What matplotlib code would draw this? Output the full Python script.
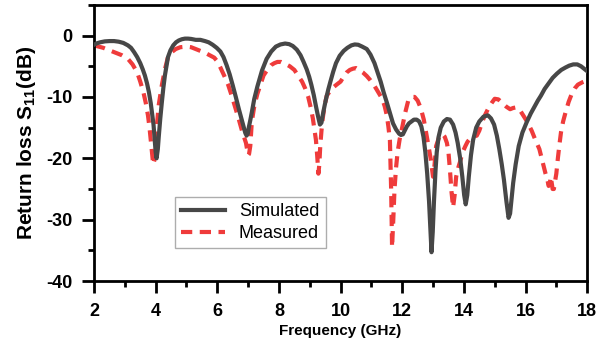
import matplotlib
matplotlib.use("Agg")
import matplotlib.pyplot as plt
from matplotlib.ticker import MultipleLocator

# simulated S11 (GHz, dB)
sim_f = [2.0, 2.1, 2.2, 2.35, 2.5, 2.65, 2.8, 2.95, 3.1, 3.2, 3.3, 3.4, 3.5,
         3.58, 3.65, 3.72, 3.78, 3.84, 3.88, 3.93, 3.96, 4.0, 4.03, 4.07,
         4.1, 4.15, 4.2, 4.25, 4.3, 4.35, 4.4, 4.48, 4.57, 4.66, 4.75, 4.85,
         4.95, 5.05, 5.15, 5.3, 5.45, 5.6, 5.72, 5.85, 5.98, 6.1, 6.2, 6.3,
         6.4, 6.5, 6.6, 6.7, 6.78, 6.85, 6.91, 6.95, 6.99, 7.02, 7.07, 7.12,
         7.2, 7.3, 7.45, 7.6, 7.75, 7.9, 8.05, 8.2, 8.33, 8.45, 8.58, 8.7,
         8.8, 8.9, 8.98, 9.05, 9.13, 9.2, 9.27, 9.33, 9.38, 9.42, 9.47, 9.52,
         9.6, 9.67, 9.76, 9.85, 9.97, 10.1, 10.22, 10.35, 10.46, 10.57, 10.7,
         10.85, 10.97, 11.1, 11.2, 11.3, 11.4, 11.5, 11.6, 11.7, 11.8, 11.9,
         11.96, 12.02, 12.08, 12.15, 12.22, 12.3, 12.38, 12.47, 12.55, 12.62,
         12.69, 12.75, 12.81, 12.87, 12.92, 12.95, 12.99, 13.03, 13.08,
         13.12, 13.18, 13.25, 13.35, 13.45, 13.55, 13.65, 13.73, 13.8, 13.88,
         13.95, 14.01, 14.06, 14.11, 14.16, 14.23, 14.3, 14.4, 14.5, 14.64,
         14.78, 14.88, 14.98, 15.07, 15.15, 15.23, 15.3, 15.38, 15.45, 15.5,
         15.55, 15.6, 15.68, 15.78, 15.9, 16.04, 16.17, 16.3, 16.4, 16.5,
         16.62, 16.75, 16.88, 17.02, 17.16, 17.3, 17.42, 17.55, 17.68, 17.8,
         17.9, 18.0]
sim_db = [-1.5, -1.25, -1.1, -0.95, -0.9, -0.9, -1.0, -1.2, -1.6, -2.0, -2.7,
          -3.5, -4.5, -5.5, -6.5, -7.8, -9.2, -11.0, -12.5, -14.5, -16.5,
          -19.0, -20.0, -18.5, -16.5, -13.5, -10.9, -8.5, -6.5, -5.0, -3.5,
          -2.4, -1.6, -1.1, -0.8, -0.6, -0.5, -0.5, -0.55, -0.7, -0.7, -0.9,
          -1.1, -1.5, -2.0, -2.6, -3.5, -4.8, -6.3, -8.1, -10.0, -12.0, -13.5,
          -14.8, -15.9, -16.3, -16.0, -15.0, -13.8, -12.5, -10.3, -8.3, -5.7,
          -3.8, -2.6, -1.8, -1.45, -1.3, -1.4, -1.7, -2.3, -3.2, -4.3, -5.5,
          -6.7, -8.0, -9.7, -11.5, -13.2, -14.5, -14.2, -13.0, -11.7, -10.5,
          -8.8, -7.5, -5.9, -4.5, -3.3, -2.5, -2.0, -1.6, -1.45, -1.5, -1.8,
          -2.2, -3.1, -4.5, -6.0, -7.5, -9.3, -10.9, -12.6, -14.3, -15.3,
          -16.0, -16.2, -16.1, -15.5, -14.8, -14.3, -14.0, -13.7, -13.7, -14.0,
          -14.8, -16.5, -19.0, -22.5, -27.0, -32.0, -35.3, -32.0, -27.0, -22.0,
          -19.0, -16.5, -15.0, -14.0, -13.6, -13.7, -14.5, -15.8, -17.5, -20.0,
          -23.0, -26.0, -27.5, -26.0, -23.0, -19.5, -17.0, -15.0, -14.0, -13.2,
          -13.0, -13.5, -14.5, -16.3, -18.5, -21.0, -23.5, -27.0, -29.7, -29.0,
          -26.5, -24.0, -21.0, -18.0, -15.8, -14.1, -12.7, -11.5, -10.6, -9.8,
          -8.7, -7.8, -6.9, -6.2, -5.6, -5.2, -4.9, -4.7, -4.7, -5.0, -5.4,
          -5.8]

# measured S11
mea_f = [2.0, 2.3, 2.6, 2.9, 3.1, 3.25, 3.4, 3.5, 3.6, 3.68, 3.75, 3.8,
         3.85, 3.89, 3.92, 3.95, 3.98, 4.03, 4.1, 4.2, 4.3, 4.4, 4.52, 4.65,
         4.8, 5.0, 5.15, 5.3, 5.45, 5.6, 5.75, 5.9, 6.0, 6.1, 6.22, 6.35, 6.48,
         6.6, 6.7, 6.8, 6.87, 6.93, 6.97, 7.0, 7.03, 7.07, 7.12, 7.2, 7.3,
         7.4, 7.5, 7.62, 7.75, 7.85, 7.95, 8.07, 8.2, 8.35, 8.5, 8.62, 8.75,
         8.85, 8.95, 9.03, 9.1, 9.15, 9.2, 9.24, 9.28, 9.31, 9.34, 9.38, 9.42,
         9.48, 9.55, 9.65, 9.75, 9.87, 10.0, 10.1, 10.2, 10.3, 10.4, 10.5,
         10.6, 10.72, 10.85, 10.97, 11.1, 11.22, 11.35, 11.43, 11.5, 11.55,
         11.6, 11.64, 11.67, 11.71, 11.75, 11.8, 11.85, 11.92, 11.99, 12.1,
         12.2, 12.3, 12.4, 12.5, 12.6, 12.7, 12.8, 12.87, 12.92, 12.96, 13.0,
         13.05, 13.1, 13.2, 13.3, 13.38, 13.45, 13.5, 13.55, 13.6, 13.65,
         13.7, 13.75, 13.82, 13.88, 13.96, 14.05, 14.12, 14.2, 14.3, 14.42,
         14.5, 14.6, 14.7, 14.8, 14.9, 15.0, 15.12, 15.25, 15.38, 15.5, 15.6,
         15.7, 15.8, 15.9, 16.05, 16.2, 16.32, 16.45, 16.55, 16.65, 16.71,
         16.75, 16.79, 16.82, 16.85, 16.88, 16.92, 16.95, 17.0, 17.05, 17.1,
         17.15, 17.22, 17.3, 17.4, 17.5, 17.6, 17.7, 17.85, 18.0]
mea_db = [-1.6, -2.0, -2.6, -3.2, -3.8, -4.7, -6.0, -7.5, -9.2, -11.0, -13.0,
          -15.0, -17.5, -19.5, -21.0, -20.5, -19.0, -15.2, -11.3, -8.1, -5.5,
          -3.5, -2.7, -2.2, -1.9, -1.8, -1.9, -2.2, -2.5, -2.8, -3.2, -3.6,
          -4.2, -5.2, -6.5, -8.0, -10.0, -12.0, -13.7, -15.5, -16.6, -17.5,
          -18.7, -19.5, -19.3, -18.0, -14.0, -11.5, -9.5, -8.0, -6.5, -5.6,
          -4.8, -4.5, -4.3, -4.3, -4.6, -5.0, -5.6, -6.5, -7.5, -8.6, -10.0,
          -11.7, -13.5, -15.2, -17.0, -19.5, -22.5, -21.0, -18.0, -15.5, -13.5,
          -11.5, -9.8, -9.1, -8.5, -8.0, -7.5, -6.7, -6.0, -5.6, -5.4, -5.3,
          -5.6, -6.0, -6.6, -7.3, -8.2, -9.2, -10.3, -11.5, -13.0, -14.8,
          -17.0, -25.0, -34.5, -30.0, -25.0, -21.5, -19.0, -16.8, -15.2, -12.5,
          -10.5, -10.0, -10.0, -10.6, -11.8, -13.7, -16.5, -18.5, -20.0, -21.5,
          -23.0, -21.0, -18.0, -16.5, -16.0, -16.5, -17.5, -19.0, -22.0, -25.5,
          -28.0, -26.0, -23.0, -21.5, -20.5, -19.0, -18.0, -17.3, -16.8, -16.5,
          -16.3, -15.5, -14.0, -12.8, -11.8, -11.0, -10.3, -10.4, -11.0, -11.6,
          -12.0, -11.8, -11.7, -12.0, -12.8, -14.0, -15.5, -17.0, -18.5, -20.5,
          -22.5, -23.5, -24.5, -24.0, -23.0, -24.0, -25.0, -25.0, -24.0, -22.5,
          -20.0, -17.8, -15.8, -14.0, -12.5, -10.8, -9.5, -8.6, -8.0, -7.6,
          -7.3]

plt.rcParams["font.family"] = ["Liberation Sans", "DejaVu Sans"]
plt.rcParams["mathtext.default"] = "regular"
plt.rcParams["axes.unicode_minus"] = False

fig = plt.figure(figsize=(5.97, 3.47), dpi=100)
ax = fig.add_axes([0.1575, 0.19, 0.826, 0.796])

ax.plot(sim_f, sim_db, color="#474747", lw=3, label="Simulated", zorder=3)
ax.plot(mea_f, mea_db, color="#ef3b3b", lw=3, ls=(0, (2.7, 1.8)),
        label="Measured", zorder=2)

ax.set_xlim(2, 18)
ax.set_ylim(-40, 5)
ax.xaxis.set_major_locator(MultipleLocator(2))
ax.xaxis.set_minor_locator(MultipleLocator(1))
ax.yaxis.set_major_locator(MultipleLocator(10))
ax.yaxis.set_minor_locator(MultipleLocator(5))
ax.tick_params(which="major", direction="out", length=8.5, width=2,
               labelsize=13, pad=7)
ax.tick_params(which="minor", direction="out", length=4.5, width=2)
for lab in ax.get_xticklabels() + ax.get_yticklabels():
    lab.set_fontweight("bold")
for sp in ax.spines.values():
    sp.set_linewidth(2)

ax.set_xlabel("Frequency (GHz)", fontsize=11, fontweight="bold", labelpad=3)
ax.set_ylabel("Return loss S$_{11}$(dB)", fontsize=15, fontweight="bold",
              labelpad=6)

leg = ax.legend(loc="upper left", bbox_to_anchor=(0.164, 0.304),
                borderaxespad=0, fontsize=13, frameon=True, fancybox=False,
                edgecolor="#999999", handlelength=2.4, handletextpad=0.8,
                labelspacing=0.25, borderpad=0.35)
leg.get_frame().set_linewidth(1)

fig.savefig("out.png", dpi=100)
